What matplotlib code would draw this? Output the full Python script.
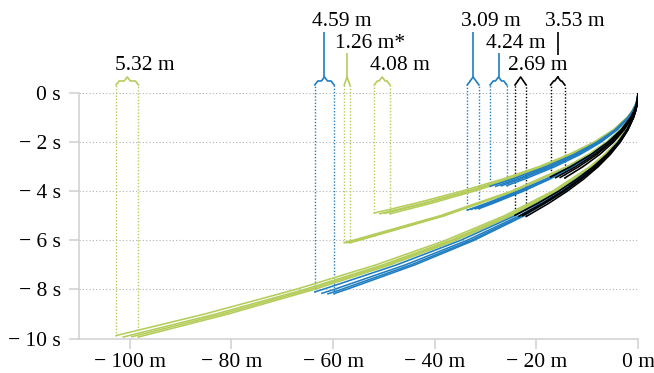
import matplotlib
matplotlib.use("Agg")
import matplotlib.pyplot as plt

plt.rcParams['font.family'] = ['Liberation Serif', 'DejaVu Serif']

GREEN = '#b4cd5a'
BLUE = '#1f7ec1'
BLACK = '#000000'

# time grid (s) shared by the runs, trimmed to each group's length
t_grid = [0, -0.25, -0.5, -0.75, -1, -1.5, -2, -2.5, -3, -4, -5, -6, -7, -8, -9]
t_fine = [0, -0.25, -0.5, -0.75, -1, -1.5, -2, -2.5, -3, -3.5, -4, -4.5]

# green, lower band
g1_x = [
    [0, -0.07, -0.26, -0.59, -1.05, -2.37, -4.21, -6.58, -9.47, -16.83, -26.30, -37.87, -51.55, -67.33, -85.21],
    [0, -0.06, -0.26, -0.58, -1.03, -2.31, -4.10, -6.41, -9.23, -16.40, -25.63, -36.90, -50.23, -65.60, -83.03],
    [0, -0.06, -0.25, -0.57, -1.01, -2.27, -4.04, -6.31, -9.09, -16.16, -25.25, -36.36, -49.49, -64.64, -81.81],
    [0, -0.06, -0.25, -0.56, -1.00, -2.24, -3.98, -6.22, -8.96, -15.92, -24.88, -35.82, -48.76, -63.68, -80.60],
]
g1_end_x = [-102.7, -101.3, -99.6, -98.3]
g1_end_t = [-9.88, -9.94, -9.93, -9.94]

# blue, lower band
b1_x = [
    [0, -0.06, -0.24, -0.55, -0.97, -2.18, -3.88, -6.06, -8.72, -15.50, -24.23, -34.88, -47.48, -62.02],
    [0, -0.06, -0.23, -0.53, -0.93, -2.10, -3.74, -5.84, -8.41, -14.94, -23.35, -33.62, -45.77, -59.78],
    [0, -0.06, -0.23, -0.51, -0.91, -2.05, -3.65, -5.70, -8.21, -14.59, -22.80, -32.83, -44.69, -58.37],
    [0, -0.06, -0.22, -0.50, -0.90, -2.02, -3.58, -5.60, -8.06, -14.34, -22.40, -32.26, -43.90, -57.34],
]
b1_end_x = [-63.6, -62.2, -61.0, -59.8]
b1_end_t = [-8.10, -8.16, -8.18, -8.17]

# green, middle band
g2_x = [
    [0, -0.10, -0.39, -0.88, -1.56, -3.51, -6.23, -9.74, -14.02, -24.93, -38.95, -56.09],
    [0, -0.10, -0.39, -0.87, -1.54, -3.47, -6.16, -9.63, -13.86, -24.64, -38.50, -55.44],
    [0, -0.10, -0.38, -0.86, -1.53, -3.45, -6.13, -9.58, -13.79, -24.51, -38.30, -55.15],
    [0, -0.10, -0.38, -0.86, -1.52, -3.43, -6.10, -9.53, -13.72, -24.38, -38.10, -54.86],
]
g2_end_x = [-57.8, -57.3, -57.0, -56.7]
g2_end_t = [-6.09, -6.10, -6.08, -6.10]

# green, upper band
g3_x = [
    [0, -0.14, -0.54, -1.22, -2.17, -4.88, -8.68, -13.57, -19.54, -26.59, -34.74, -43.96],
    [0, -0.13, -0.52, -1.18, -2.10, -4.72, -8.39, -13.11, -18.88, -25.70, -33.57, -42.48],
    [0, -0.13, -0.52, -1.17, -2.07, -4.67, -8.30, -12.96, -18.67, -25.41, -33.18, -42.00],
    [0, -0.13, -0.50, -1.13, -2.02, -4.54, -8.06, -12.60, -18.14, -24.70, -32.26, -40.82],
]
g3_end_x = [-51.9, -50.8, -49.8, -48.8]
g3_end_t = [-4.89, -4.92, -4.90, -4.92]

# blue, middle band
b2_x = [
    [0, -0.09, -0.37, -0.83, -1.48, -3.32, -5.91, -9.23, -13.29, -18.09, -23.63, -29.91],
    [0, -0.09, -0.37, -0.82, -1.46, -3.29, -5.84, -9.13, -13.14, -17.89, -23.36, -29.57],
    [0, -0.09, -0.36, -0.81, -1.44, -3.23, -5.74, -8.98, -12.92, -17.59, -22.98, -29.08],
    [0, -0.09, -0.35, -0.79, -1.41, -3.17, -5.64, -8.82, -12.70, -17.28, -22.58, -28.57],
]
b2_end_x = [-33.6, -32.8, -32.0, -31.3]
b2_end_t = [-4.77, -4.74, -4.72, -4.71]

# blue, upper band
b3_x = [
    [0, -0.13, -0.50, -1.13, -2.02, -4.53, -8.06, -12.59, -18.14, -24.68],
    [0, -0.12, -0.48, -1.09, -1.94, -4.36, -7.76, -12.12, -17.45, -23.75],
    [0, -0.12, -0.47, -1.06, -1.88, -4.24, -7.53, -11.77, -16.95, -23.07],
    [0, -0.11, -0.45, -1.02, -1.82, -4.08, -7.26, -11.34, -16.34, -22.23],
]
b3_end_x = [-29.1, -28.0, -26.9, -25.8]
b3_end_t = [-3.80, -3.80, -3.78, -3.77]

# black, lower band
k1_x = [
    [0, -0.06, -0.24, -0.55, -0.98, -2.20, -3.90, -6.10, -8.78, -11.96, -15.62, -19.76],
    [0, -0.06, -0.23, -0.52, -0.93, -2.09, -3.72, -5.81, -8.36, -11.38, -14.86, -18.81],
    [0, -0.06, -0.23, -0.51, -0.91, -2.04, -3.63, -5.68, -8.17, -11.12, -14.53, -18.39],
    [0, -0.05, -0.22, -0.49, -0.87, -1.96, -3.48, -5.44, -7.83, -10.66, -13.92, -17.62],
]
k1_end_x = [-24.2, -23.4, -22.7, -22.0]
k1_end_t = [-4.98, -5.02, -5.00, -5.03]

# black, middle band
k2_x = [
    [0, -0.09, -0.37, -0.83, -1.47, -3.31, -5.88, -9.19, -13.23],
    [0, -0.09, -0.34, -0.77, -1.36, -3.06, -5.44, -8.51, -12.25],
    [0, -0.08, -0.32, -0.73, -1.29, -2.91, -5.17, -8.08, -11.64],
    [0, -0.08, -0.30, -0.68, -1.20, -2.71, -4.81, -7.52, -10.83],
]
k2_end_x = [-17.2, -16.2, -15.3, -14.4]
k2_end_t = [-3.42, -3.45, -3.44, -3.46]

spread_labels = ['5.32 m', '4.59 m', '1.26 m*', '4.08 m', '3.09 m', '4.24 m', '2.69 m', '3.53 m']

x_ticks = [-100, -80, -60, -40, -20, 0]
x_tick_labels = ['\u2212 100 m', '\u2212 80 m', '\u2212 60 m', '\u2212 40 m', '\u2212 20 m', '0 m']
y_ticks = [-10, -8, -6, -4, -2, 0]
y_tick_labels = ['\u2212 10 s', '\u2212 8 s', '\u2212 6 s', '\u2212 4 s', '\u2212 2 s', '0 s']

groups = [
    (GREEN, t_grid, g1_x, g1_end_x, g1_end_t),
    (BLUE, t_grid, b1_x, b1_end_x, b1_end_t),
    (GREEN, t_grid, g2_x, g2_end_x, g2_end_t),
    (GREEN, t_fine, g3_x, g3_end_x, g3_end_t),
    (BLUE, t_fine, b2_x, b2_end_x, b2_end_t),
    (BLUE, t_fine, b3_x, b3_end_x, b3_end_t),
    (BLACK, t_fine, k1_x, k1_end_x, k1_end_t),
    (BLACK, t_fine, k2_x, k2_end_x, k2_end_t),
]
# label row for each bracket (0 = lowest, 2 = highest)
label_rows = [0, 2, 1, 0, 2, 1, 0, 2]
row_base = [0.94, 1.85, 2.73]
stem_top = [None, 1.63, 2.57]

fig = plt.figure(figsize=(6.54, 3.73), dpi=100)
ax = fig.add_axes([79 / 654, 34.5 / 373, 559 / 654, 245.5 / 373])

# draw order: green, then blue, then black on top
order = sorted(range(len(groups)), key=lambda i: [GREEN, BLUE, BLACK].index(groups[i][0]))
for i in order:
    color, tg, xs, ex, et = groups[i]
    for run, x_end, t_end in zip(xs, ex, et):
        ax.plot(list(run) + [x_end], tg[:len(run)] + [t_end], color=color, lw=1.15, zorder=3)

y_base, y_flat, y_peak = 0.327, 0.49, 0.653
for i, (color, tg, xs, ex, et) in enumerate(groups):
    xl, xr = min(ex), max(ex)
    tl = et[ex.index(xl)]
    tr = et[ex.index(xr)]
    dots = (0, (1, 1.3))
    ax.plot([xl, xl], [tl, y_base], color=color, lw=1.0, ls=dots, clip_on=False, zorder=2)
    ax.plot([xr, xr], [tr, y_base], color=color, lw=1.0, ls=dots, clip_on=False, zorder=2)
    xc = (xl + xr) / 2
    d = min(0.6, (xr - xl) / 4)
    ax.plot([xl, xl + d, xc - d, xc, xc + d, xr - d, xr],
            [y_base, y_flat, y_flat, y_peak, y_flat, y_flat, y_base],
            color=color, lw=1.2, clip_on=False, zorder=4, solid_joinstyle='round')
    row = label_rows[i]
    if stem_top[row] is not None:
        ax.plot([xc, xc], [y_peak, stem_top[row]], color=color, lw=1.2, clip_on=False, zorder=4)
    ax.text(xc - 2.46, row_base[row], spread_labels[i], ha='left', va='baseline',
            fontsize=15.5, color='black', zorder=6, clip_on=False,
            bbox=dict(facecolor='white', edgecolor='none', pad=0.5))

ax.set_xlim(-110, 0)
ax.set_ylim(-10, 0)

for y in y_ticks:
    ax.axhline(y, color='#b0b0b0', lw=0.8, ls=(0, (1, 2)), zorder=1)
ax.axvline(0, color='#b0b0b0', lw=0.8, ls=(0, (1, 2)), zorder=1)

ax.set_xticks(x_ticks)
ax.set_xticklabels(x_tick_labels)
ax.set_yticks(y_ticks)
ax.set_yticklabels(y_tick_labels)
ax.tick_params(axis='both', length=7.2, width=1.1, color='#d0d0d0', labelsize=15.5)
ax.tick_params(axis='x', pad=3)
ax.tick_params(axis='y', pad=6)

for s in ['top', 'right']:
    ax.spines[s].set_visible(False)
for s in ['left', 'bottom']:
    ax.spines[s].set_color('#d0d0d0')
    ax.spines[s].set_linewidth(1.1)

fig.savefig('out.png', dpi=100)
